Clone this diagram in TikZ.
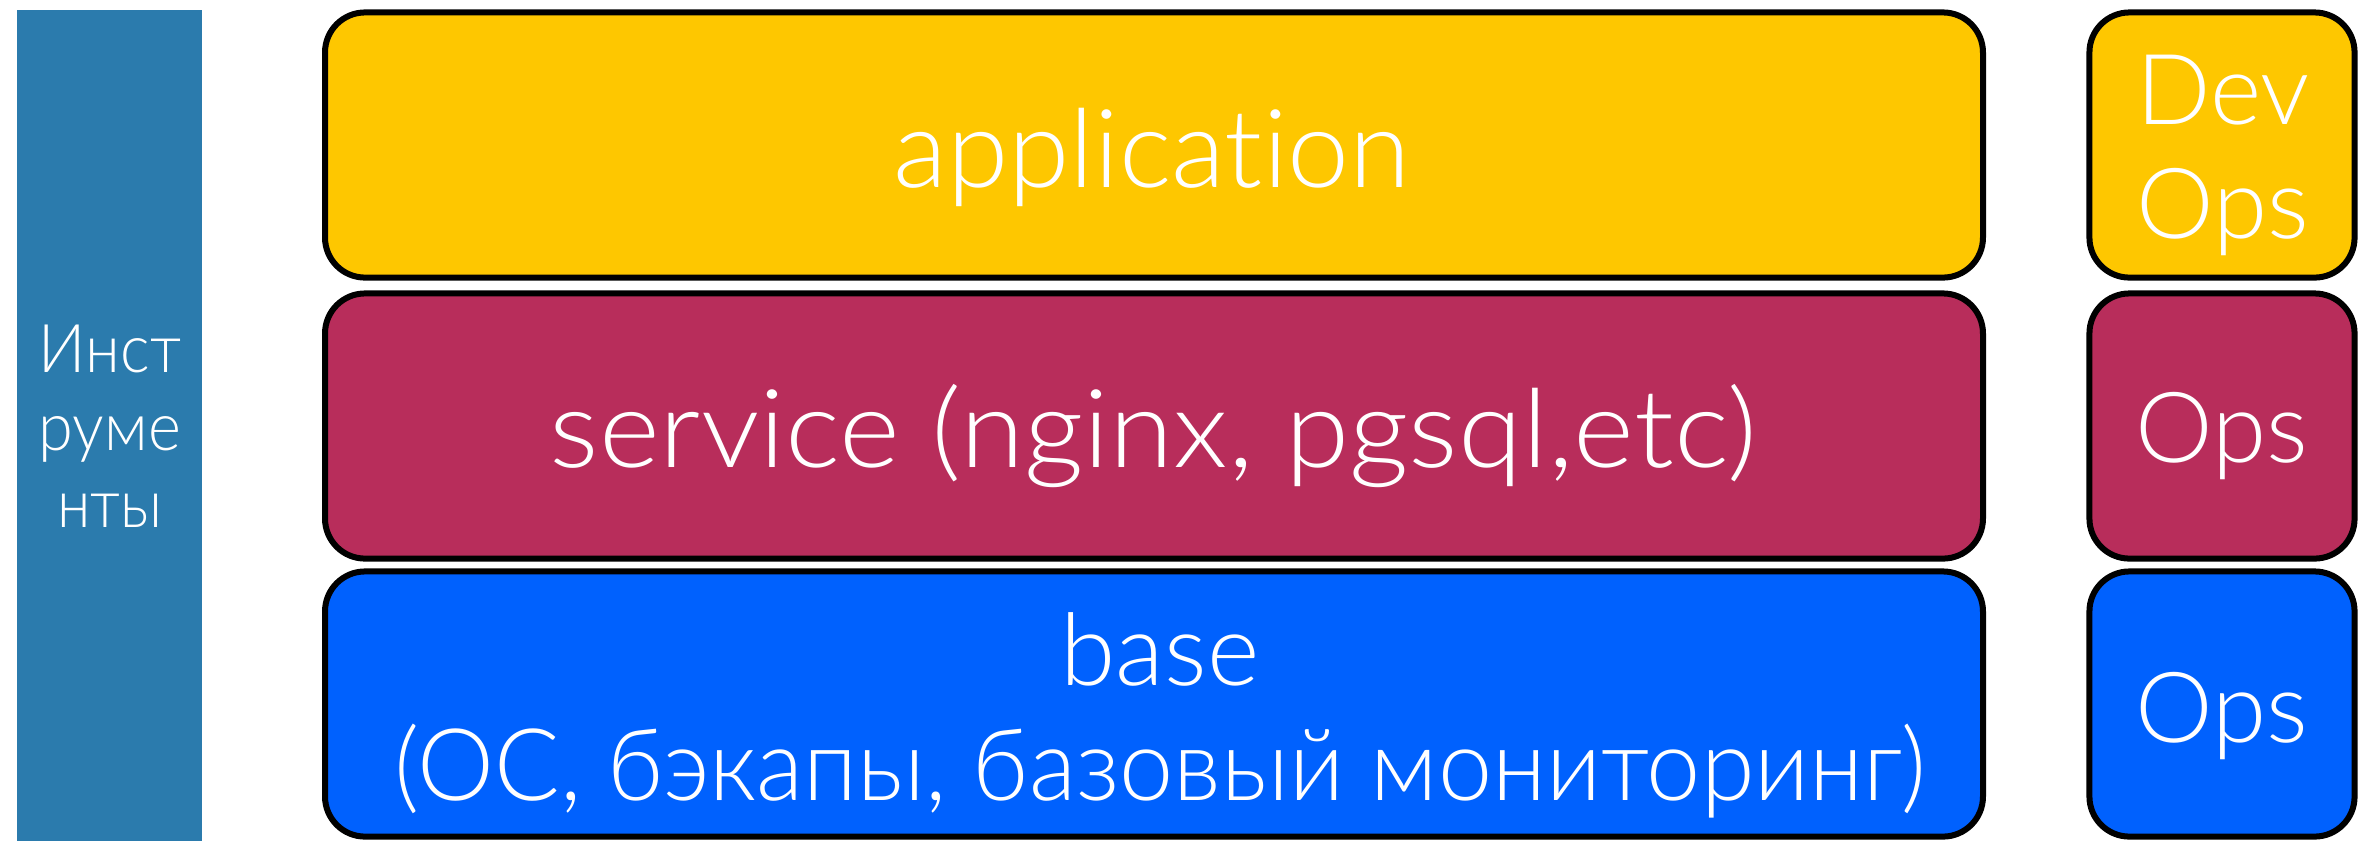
\documentclass[tikz,border=0pt]{standalone}
\usepackage{fontspec}
\setmainfont{Lato}[UprightFont=* Light, Ligatures={NoCommon}]
\usepackage{graphicx}
\usetikzlibrary{positioning}
\definecolor{appyellow}{RGB}{254,199,0}
\definecolor{servred}{RGB}{184,45,91}
\definecolor{baseblue}{RGB}{0,97,254}
\definecolor{toolblue}{RGB}{43,123,173}
\tikzset{
  layer/.style={draw=black, line width=0.06cm, rounded corners=0.4cm,
    minimum width=16.57cm, minimum height=2.65cm, inner sep=0pt},
  owner/.style={layer, minimum width=2.65cm},
  caption/.style={text=white, anchor=base, align=center, inner sep=0pt},
  big/.style={font=\fontsize{31}{34}\selectfont},
}

\begin{document}
\begin{tikzpicture}[x=0.01cm, y=-0.01cm]
\useasboundingbox (0,0) rectangle (2360,841);
% left column (base anchor = last line)
\node[fill=toolblue, minimum width=1.85cm, minimum height=8.31cm, inner sep=0pt] (tools) at (109.5,425.5) {};
\node[caption, font=\fontsize{19.1}{21.9}\selectfont] (toolstext) at (110,527)
  {\resizebox{1.42cm}{\height}{Инст}\\\resizebox{1.42cm}{\height}{руме}\\\resizebox{1.05cm}{\height}{нты}};
% layers
\node[layer, fill=appyellow] (app) at (1154,145) {};
\node[layer, fill=servred] (serv) at (1154,426) {};
\node[layer, fill=baseblue] (base) at (1154,704) {};
\node[caption, big] (apptext) at (1152,187) {\resizebox{5.17cm}{\height}{application}};
\node[caption, big] (servtext) at (1153,467) {\resizebox{12.06cm}{\height}{service (nginx, pgsql,etc)}};
\node[caption, font=\fontsize{28.5}{32.7}\selectfont] (basetext) at (1160,800)
  {base\\\resizebox{15.3cm}{\height}{(ОС, бэкапы, базовый мониторинг)}};
% who is in charge
\node[owner, fill=appyellow] (appown) at (2222,145) {};
\node[owner, fill=servred] (servown) at (2222,426) {};
\node[owner, fill=baseblue] (baseown) at (2222,704) {};
\node[caption, font=\fontsize{27.9}{32.2}\selectfont] (devops) at (2223,238) {Dev\\Ops};
\node[caption, font=\fontsize{27.9}{32.2}\selectfont] (servops) at (2222,462) {Ops};
\node[caption, font=\fontsize{27.9}{32.2}\selectfont] (baseops) at (2222,742) {Ops};
\end{tikzpicture}
\end{document}
